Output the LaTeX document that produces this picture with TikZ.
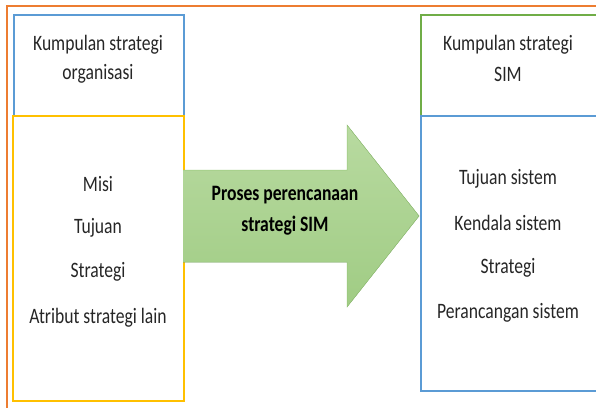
\documentclass[tikz,border=0pt]{standalone}
\usepackage{fontspec}
\setmainfont{Carlito}
\definecolor{frameorange}{RGB}{237,125,49}
\definecolor{boxblue}{RGB}{91,155,213}
\definecolor{boxyellow}{RGB}{255,192,0}
\definecolor{boxgreen}{RGB}{112,173,71}
\definecolor{arrowtop}{RGB}{184,218,160}
\definecolor{arrowbot}{RGB}{160,204,132}
\definecolor{arrowedge}{RGB}{150,198,120}
% text drawn a little taller than its natural shape
\newcommand{\tallword}[1]{\scalebox{1}[1.25]{#1}}
\tikzset{
  box/.style={draw, line width=1.6pt, inner sep=0pt},
  label/.style={font=\fontsize{17.6}{20}\selectfont, align=center, text=black!85},
  arrowlabel/.style={font=\fontsize{17.6}{20}\selectfont\bfseries, align=center, text=black},
}
\begin{document}
\begin{tikzpicture}[x=1pt, y=-1pt]
\useasboundingbox (0,0) rectangle (596,407);
% outer frame (runs past the page edge on the right and bottom)
\draw[frameorange, line width=1.8pt] (7,440) -- (7,6) -- (640,6);

% left column
\node[box, boxblue, minimum width=170pt, minimum height=101pt, anchor=north west] (orgHead) at (13,14) {};
\node[box, boxyellow, minimum width=171pt, minimum height=285pt, anchor=north west] (orgBody) at (12,115) {};
% right column
\node[box, boxgreen, minimum width=200pt, minimum height=101pt, anchor=north west] (simHead) at (420,14) {};
\node[box, boxblue, minimum width=200pt, minimum height=275pt, anchor=north west] (simBody) at (420,115) {};

% block arrow between the columns
\fill[top color=arrowtop, bottom color=arrowbot]
  (183,170) -- (347,170) -- (347,125) -- (419,216) -- (347,307) -- (347,262) -- (183,262) -- cycle;
\draw[arrowedge, line width=0.5pt]
  (183,170) -- (347,170) -- (347,125) -- (419,216) -- (347,307) -- (347,262) -- (183,262);

% texts
\node[label] (t1) at (98,45) {\tallword{Kumpulan strategi}};
\node[label] (t2) at (98,74) {\tallword{organisasi}};
\node[label] (t3) at (508,45) {\tallword{Kumpulan strategi}};
\node[label] (t4) at (508,74) {\tallword{SIM}};

\node[arrowlabel] (p1) at (285,195) {\tallword{Proses perencanaan}};
\node[arrowlabel] (p2) at (285,226) {\tallword{strategi SIM}};

\node[label] (l1) at (98,184) {\tallword{Misi}};
\node[label] (l2) at (98,228) {\tallword{Tujuan}};
\node[label] (l3) at (98,272) {\tallword{Strategi}};
\node[label] (l4) at (98,318) {\tallword{Atribut strategi lain}};

\node[label] (r1) at (508,179) {\tallword{Tujuan sistem}};
\node[label] (r2) at (508,223) {\tallword{Kendala sistem}};
\node[label] (r3) at (508,268) {\tallword{Strategi}};
\node[label] (r4) at (508,313) {\tallword{Perancangan sistem}};
\end{tikzpicture}
\end{document}
